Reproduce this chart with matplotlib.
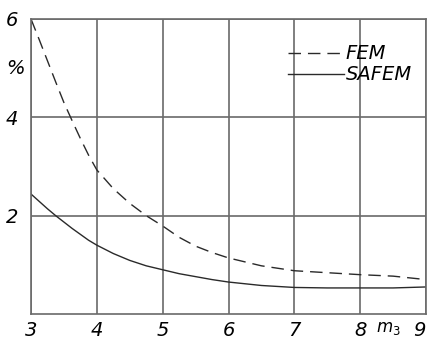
import matplotlib
matplotlib.use("Agg")
import matplotlib.pyplot as plt
import numpy as np

# Data
m3 = [3.0, 3.125, 3.25, 3.375, 3.5, 3.625, 3.75, 3.875, 4.0, 4.25, 4.5, 4.75, 5.0,
      5.25, 5.5, 5.75, 6.0, 6.5, 7.0, 7.5, 8.0, 8.5, 9.0]
fem = [6.0, 5.58, 5.15, 4.72, 4.3, 3.93, 3.57, 3.23, 2.93, 2.55, 2.25, 2.0, 1.79,
       1.56, 1.38, 1.25, 1.14, 0.98, 0.88, 0.84, 0.80, 0.77, 0.70]
safem = [2.44, 2.29, 2.14, 2.0, 1.87, 1.74, 1.62, 1.50, 1.40, 1.23, 1.09, 0.98, 0.90,
         0.82, 0.76, 0.70, 0.65, 0.58, 0.54, 0.53, 0.53, 0.53, 0.55]

xticks = [3, 4, 5, 6, 7, 8, 9]
yticks = [2, 4, 6]

plt.rcParams['font.family'] = ['DejaVu Sans']
plt.rcParams['mathtext.fontset'] = 'dejavusans'
fig = plt.figure(figsize=(4.28, 3.42), dpi=100)
ax = fig.add_axes([31/428, 28/342, 395/428, 295/342])

ink = '#2a2a2a'
gridc = '#6a6a6a'

ax.plot(m3, fem, color=ink, lw=1.0, dashes=(9, 5), label='FEM')
ax.plot(m3, safem, color=ink, lw=1.0, label='SAFEM')

ax.set_xlim(3, 9)
ax.set_ylim(0, 6)
ax.set_xticks(xticks)
ax.set_yticks(yticks)
ax.set_xticklabels([str(v) for v in xticks], fontsize=14, style='italic', color='black')
ax.set_yticklabels([str(v) for v in yticks], fontsize=14, style='italic', color='black')
ax.get_xticklabels()[-1].set_ha('right')
ax.tick_params(axis='x', length=0, pad=5)
ax.tick_params(axis='y', length=0, pad=9)
ax.grid(True, color=gridc, lw=1.2)
for s in ax.spines.values():
    s.set_color(gridc)
    s.set_linewidth(1.2)

ax.text(-0.015, 5.0, '%', transform=ax.get_yaxis_transform(), ha='right', va='center',
        fontsize=14, style='italic')
ax.text(8.43, -0.28, r'$m_{3}$', ha='center', va='center', fontsize=12)

leg = ax.legend(loc='upper left', bbox_to_anchor=(0.63, 0.94), frameon=False,
                fontsize=14, handlelength=2.9, handletextpad=0.1, labelspacing=0.1,
                borderaxespad=0)
for t in leg.get_texts():
    t.set_style('italic')

fig.savefig('out.png', dpi=100, facecolor='white')
